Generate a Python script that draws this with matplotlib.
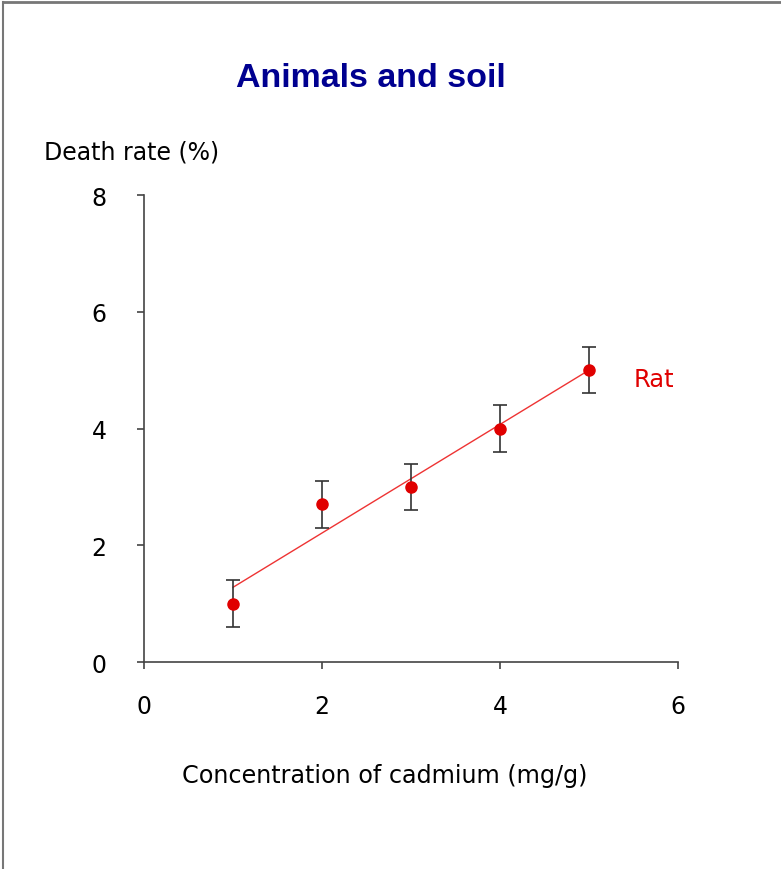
import numpy as np
import matplotlib
matplotlib.use("Agg")
import matplotlib.pyplot as plt
from matplotlib.lines import Line2D

# donnees
concentration = [1, 2, 3, 4, 5]
death_rate = [1.0, 2.7, 3.0, 4.0, 5.0]
errors = [0.4, 0.4, 0.4, 0.4, 0.4]
x_ticks = [0, 2, 4, 6]
y_ticks = [0, 2, 4, 6, 8]

plt.rcParams['font.family'] = ['DejaVu Sans']

fig = plt.figure(figsize=(7.81, 8.70), dpi=100)
ax = fig.add_axes([0.1844, 0.2379, 0.6837, 0.5368])

# droite de regression
slope, intercept = np.polyfit(concentration, death_rate, 1)
xs = np.array([concentration[0], concentration[-1]])
ax.plot(xs, slope * xs + intercept, color='#ee3333', lw=1, zorder=2)

ax.errorbar(concentration, death_rate, yerr=errors, fmt='none', ecolor='#333333',
            elinewidth=1.2, capsize=5, capthick=1.2, zorder=3)
ax.plot(concentration, death_rate, 'o', color='#e00000', markersize=8, zorder=4)

ax.text(5.5, 4.85, "Rat", color='#e00000', fontsize=17.5, va='center', ha='left')

ax.set_xlim(0, 6)
ax.set_ylim(0, 8)
ax.set_xticks(x_ticks)
ax.set_yticks(y_ticks)
for side in ['top', 'right']:
    ax.spines[side].set_visible(False)
for side in ['left', 'bottom']:
    ax.spines[side].set_color('#444444')
    ax.spines[side].set_linewidth(1.2)
ax.tick_params(axis='both', direction='out', length=5, width=1.2, color='#444444', labelsize=17)
ax.tick_params(axis='x', pad=18)
ax.tick_params(axis='y', pad=22)

fig.text(0.475, 0.91, "Animals and soil", color='#000090', fontsize=24.5, fontweight='bold',
         family='Liberation Sans', ha='center', va='center')
fig.text(0.056, 0.825, "Death rate (%)", fontsize=17, ha='left', va='center')
fig.text(0.493, 0.108, "Concentration of cadmium (mg/g)", fontsize=17.2, ha='center', va='center')

# cadre gris en haut et a gauche
fig.add_artist(Line2D([0.004, 1.0], [0.997, 0.997], color='#777777', lw=2, transform=fig.transFigure))
fig.add_artist(Line2D([0.004, 0.004], [0.0, 0.997], color='#777777', lw=1.5, transform=fig.transFigure))

fig.savefig("out.png", dpi=100)
